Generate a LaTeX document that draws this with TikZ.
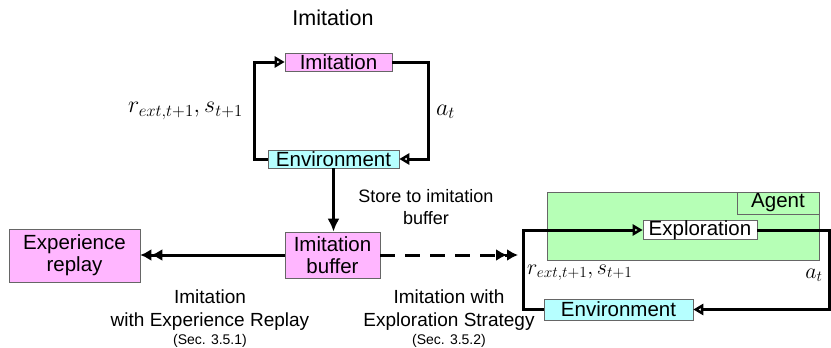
\RequirePackage{fix-cm}
\documentclass[tikz,border=0pt]{standalone}
\usepackage{fontspec}
\setmainfont{Liberation Sans}
\usetikzlibrary{arrows.meta,positioning}
\definecolor{imitpink}{RGB}{255,182,255}
\definecolor{envcyan}{RGB}{182,255,255}
\definecolor{agentgreen}{RGB}{182,255,182}

\begin{document}
\begin{tikzpicture}[x=1pt,y=-1pt,
  box/.style={draw=black!60,line width=0.6pt,inner sep=0pt,align=center,font=\fontsize{20.5}{22}\selectfont},
  loopline/.style={line width=3pt,-{Triangle[open,length=10pt,width=11pt]}},
  flowline/.style={line width=3pt},
  txt/.style={inner sep=0pt,align=center,font=\fontsize{19}{23}\selectfont},
  mathlbl/.style={inner sep=0pt,font=\fontsize{24}{26}\selectfont}]
\useasboundingbox (0,0) rectangle (831,348);
\node[txt,font=\fontsize{21.5}{24}\selectfont] (title) at (333,18) {Imitation};
\node[box,fill=imitpink,minimum width=107pt,minimum height=18pt] (imit) at (338.5,62) {Imitation};
\node[box,fill=envcyan,minimum width=131pt,minimum height=18pt] (envtop) at (333.5,159) {Environment};
\node[box,fill=imitpink,minimum width=95pt,minimum height=46pt] (buf) at (332.5,255) {Imitation\\buffer};
\node[box,fill=imitpink,minimum width=131pt,minimum height=53pt] (replay) at (74.5,255.5) {Experience\\replay};
\node[box,fill=agentgreen,minimum width=272pt,minimum height=68pt] (agent) at (683,226) {};
\node[box,fill=agentgreen,minimum width=82pt,minimum height=22pt,anchor=north east] (agentlbl) at (agent.north east) {Agent};
\node[box,fill=white,minimum width=114pt,minimum height=18pt] (explore) at (700,230) {Exploration};
\node[box,fill=envcyan,minimum width=149pt,minimum height=21pt] (envbot) at (618.5,309.5) {Environment};

\node[mathlbl] (rtop) at (185.5,111) {$r_{ext,t+1}, s_{t+1}$};
\node[mathlbl] (atop) at (445.5,112) {$a_t$};
\node[mathlbl,font=\fontsize{22}{24}\selectfont,anchor=west] (rbot) at (527,273) {$r_{ext,t+1}, s_{t+1}$};
\node[mathlbl,font=\fontsize{22}{24}\selectfont] (abot) at (814,275) {$a_t$};

\node[txt,font=\fontsize{18}{22}\selectfont] (store) at (426,207) {Store to imitation\\buffer};
\node[txt,anchor=north] (erlbl) at (210,290) {Imitation\\with Experience Replay\\[-5pt]{\fontsize{14}{16}\selectfont (Sec. 3.5.1)}};
\node[txt,anchor=north] (eslbl) at (449,290) {Imitation with\\Exploration Strategy\\[-5pt]{\fontsize{14}{16}\selectfont (Sec. 3.5.2)}};

\coordinate (dashend) at (518,255);
\draw[loopline] (envtop.west) -- ++(-13,0) |- (imit.west);
\draw[loopline] (imit.east) -- ++(36,0) |- (envtop.east);
\draw[flowline,-{Latex[length=13pt,width=12pt]}] (envtop.south) -- (envtop.south |- buf.north);
\draw[flowline,-{Latex[length=11pt,width=12pt]Latex[length=11pt,width=12pt]}] (buf.west) -- (buf.west -| replay.east);
\draw[flowline,dash pattern=on 15pt off 10pt,-{Latex[length=11pt,width=12pt]Latex[length=11pt,width=12pt]}] (buf.east) -- (dashend);
\draw[loopline] (envbot.west) -- ++(-20,0) |- (explore.west);
\draw[loopline] (explore.east) -- ++(72,0) |- (envbot.east);
\end{tikzpicture}
\end{document}
